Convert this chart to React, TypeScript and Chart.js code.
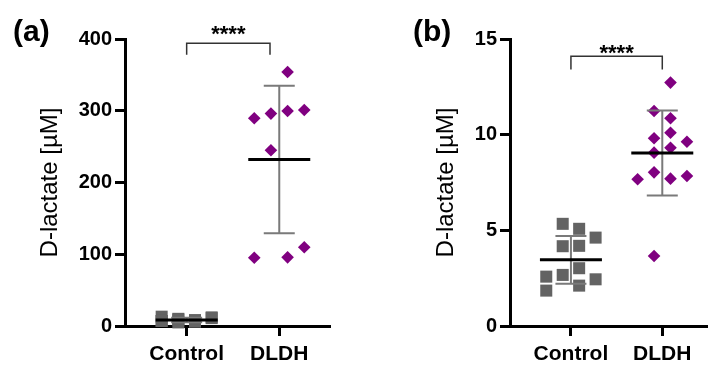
import React, { useEffect, useRef } from "react";
import { Chart, registerables } from "chart.js";
Chart.register(...registerables);

const FONT = "'Liberation Sans', Arial, Helvetica, sans-serif";

const groups = ["Control", "DLDH"];
const yTitle = "D-lactate [µM]";
const significance = "****";

// Panel (a)
const aControl = [13, 10, 8, 12, 7, 9, 6, 11, 5, 8, 7];
const aDLDH = [354, 289.5, 296, 299.7, 301, 245, 95.2, 95.7, 109.7];
const aMeans = [8.4, 232];
const aSD = [3, 102.7];
const aTicks = [0, 100, 200, 300, 400];

// Panel (b)
const bControl = [5.34, 5.08, 4.62, 4.17, 4.19, 3.02, 2.67, 2.58, 2.44, 1.85, 2.11];
const bDLDH = [12.72, 11.24, 10.86, 10.1, 9.81, 9.63, 9.32, 9.06, 8.03, 7.67, 7.7, 7.84, 3.66];
const bMeans = [3.46, 9.04];
const bSD = [1.25, 2.22];
const bTicks = [0, 5, 10, 15];

// layout-only: column slot of each point within its group (scatter jitter)
const aControlSlots = [-1.5, -0.5, 0.5, 1.5, -1.5, -0.5, 0.5, 1.5, -0.5, 0.5, -1.5];
const aDLDHSlots = [0.5, -1.5, -0.5, 0.5, 1.5, -0.5, -1.5, 0.5, 1.5];
const bControlSlots = [-0.5, 0.5, 1.5, -0.5, 0.5, 0.5, -0.5, -1.5, 1.5, -1.5, 0.5];
const bDLDHSlots = [0.5, -0.5, 0.5, 0.5, -0.5, 1.5, 0.5, -0.5, -0.5, -1.5, 0.5, 1.5, -0.5];

type PanelCfg = {
  label: string;
  control: number[];
  controlSlots: number[];
  dldh: number[];
  dldhSlots: number[];
  means: number[];
  sds: number[];
  ticks: number[];
  xMin: number;
  xMax: number;
  bracketX: [number, number];
  bracketY: number;
  bracketLegY: number;
  starsY: number;
  yAxisWidth: number;
  titlePad: number;
  padRight: number;
  labelX: number;
};

const SLOT = 0.18;

function Panel({ cfg, left }: { cfg: PanelCfg; left: number }) {
  const ref = useRef<HTMLCanvasElement | null>(null);
  useEffect(() => {
    if (!ref.current) return;
    const statsPlugin = {
      id: "stats",
      afterDatasetsDraw(chart: any) {
        const { ctx } = chart;
        const x = chart.scales.x;
        const y = chart.scales.y;
        ctx.save();
        cfg.means.forEach((m, i) => {
          const cx = x.getPixelForValue(i + 1);
          const top = y.getPixelForValue(m + cfg.sds[i]);
          const bot = y.getPixelForValue(m - cfg.sds[i]);
          ctx.strokeStyle = "#7a7a7a";
          ctx.lineWidth = 2;
          ctx.beginPath();
          ctx.moveTo(cx, top);
          ctx.lineTo(cx, bot);
          ctx.moveTo(cx - 15.5, top);
          ctx.lineTo(cx + 15.5, top);
          ctx.moveTo(cx - 15.5, bot);
          ctx.lineTo(cx + 15.5, bot);
          ctx.stroke();
          const my = y.getPixelForValue(m);
          ctx.strokeStyle = "#000";
          ctx.lineWidth = 3;
          ctx.beginPath();
          ctx.moveTo(cx - 31, my);
          ctx.lineTo(cx + 31, my);
          ctx.stroke();
        });
        // bracket
        const x1 = x.getPixelForValue(cfg.bracketX[0]);
        const x2 = x.getPixelForValue(cfg.bracketX[1]);
        const by = y.getPixelForValue(cfg.bracketY);
        const ly = y.getPixelForValue(cfg.bracketLegY);
        ctx.strokeStyle = "#333";
        ctx.lineWidth = 1.5;
        ctx.beginPath();
        ctx.moveTo(x1, ly);
        ctx.lineTo(x1, by);
        ctx.lineTo(x2, by);
        ctx.lineTo(x2, ly);
        ctx.stroke();
        const sy = y.getPixelForValue(cfg.starsY);
        ctx.fillStyle = "#000";
        ctx.font = `bold 22px ${FONT}`;
        ctx.textAlign = "center";
        ctx.textBaseline = "alphabetic";
        ctx.fillText(significance, (x1 + x2) / 2, sy + 0.57 * 22);
        // panel label
        ctx.font = `bold 30px ${FONT}`;
        ctx.textAlign = "left";
        ctx.fillStyle = "#000";
        ctx.fillText(cfg.label, cfg.labelX, 41);
        ctx.restore();
      },
    };
    const chart = new Chart(ref.current, {
      type: "scatter",
      data: {
        datasets: [
          {
            data: cfg.control.map((v, i) => ({ x: 1 + cfg.controlSlots[i] * SLOT, y: v })),
            pointStyle: "rect",
            pointRadius: 8.5,
            pointBackgroundColor: "#636363",
            pointBorderWidth: 0,
            clip: false,
          },
          {
            data: cfg.dldh.map((v, i) => ({ x: 2 + cfg.dldhSlots[i] * SLOT, y: v })),
            pointStyle: "rectRot",
            pointRadius: 6.3,
            pointBackgroundColor: "#800080",
            pointBorderWidth: 0,
            clip: false,
          },
        ],
      },
      options: {
        animation: false,
        responsive: false,
        maintainAspectRatio: false,
        layout: { padding: { left: 0, top: 39, right: cfg.padRight, bottom: 0 } },
        plugins: { legend: { display: false }, tooltip: { enabled: false } },
        scales: {
          x: {
            type: "linear",
            min: cfg.xMin,
            max: cfg.xMax,
            afterBuildTicks: (s: any) => {
              s.ticks = groups.map((_, i) => ({ value: i + 1 }));
            },
            afterFit: (s: any) => {
              s.height = 39;
            },
            ticks: {
              callback: (v: any) => groups[Math.round(Number(v)) - 1] ?? "",
              color: "#000",
              font: { family: FONT, size: 21, weight: "bold" },
              padding: 6,
              maxRotation: 0,
              autoSkip: false,
            },
            grid: { drawOnChartArea: false, drawTicks: true, tickLength: 10, tickWidth: 3, tickColor: "#000" },
            border: { display: true, color: "#000", width: 3 },
          },
          y: {
            min: cfg.ticks[0],
            max: cfg.ticks[cfg.ticks.length - 1],
            afterBuildTicks: (s: any) => {
              s.ticks = cfg.ticks.map((v) => ({ value: v }));
            },
            afterFit: (s: any) => {
              s.width = cfg.yAxisWidth;
            },
            ticks: {
              color: "#000",
              font: { family: FONT, size: 20, weight: "bold" },
              padding: 3,
            },
            title: {
              display: true,
              text: yTitle,
              color: "#000",
              font: { family: FONT, size: 24 },
              padding: { top: cfg.titlePad, bottom: 0 },
            },
            grid: { drawOnChartArea: false, drawTicks: true, tickLength: 10, tickWidth: 3, tickColor: "#000" },
            border: { display: true, color: "#000", width: 3 },
          },
        },
      },
      plugins: [statsPlugin],
    } as any);
    return () => chart.destroy();
  }, [cfg]);
  return (
    <canvas
      ref={ref}
      width={358}
      height={365}
      style={{ position: "absolute", left, top: 0, width: 358, height: 365 }}
    />
  );
}

const panelA: PanelCfg = {
  label: "(a)",
  control: aControl,
  controlSlots: aControlSlots,
  dldh: aDLDH,
  dldhSlots: aDLDHSlots,
  means: aMeans,
  sds: aSD,
  ticks: aTicks,
  xMin: 0.334,
  xMax: 2.548,
  bracketX: [1, 1.9],
  bracketY: 394,
  bracketLegY: 378,
  starsY: 414,
  yAxisWidth: 125,
  titlePad: 36,
  padRight: 28,
  labelX: 13,
};

const panelB: PanelCfg = {
  label: "(b)",
  control: bControl,
  controlSlots: bControlSlots,
  dldh: bDLDH,
  dldhSlots: bDLDHSlots,
  means: bMeans,
  sds: bSD,
  ticks: bTicks,
  xMin: 0.333,
  xMax: 2.495,
  bracketX: [1, 2],
  bracketY: 14.1,
  bracketLegY: 13.4,
  starsY: 14.57,
  yAxisWidth: 152,
  titlePad: 74,
  padRight: 5,
  labelX: 55,
};

export default function App() {
  return (
    <div style={{ position: "fixed", left: 0, top: 0, width: 716, height: 365, background: "#fff" }}>
      <Panel cfg={panelA} left={0} />
      <Panel cfg={panelB} left={358} />
    </div>
  );
}
